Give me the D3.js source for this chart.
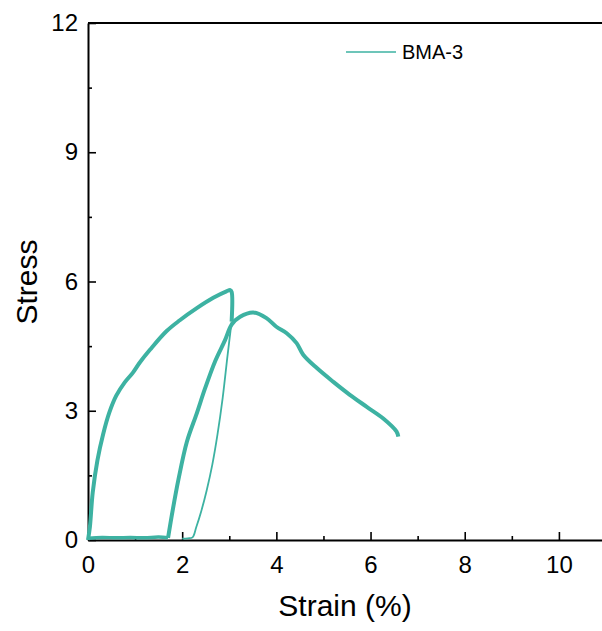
<!DOCTYPE html>
<html lang="en">
<head>
    <meta charset="UTF-8">
    <title>BMA-3</title>
    <script src="https://cdn.jsdelivr.net/npm/d3@7/dist/d3.min.js"></script>
    <style>
        body { margin: 0; background: #fff; }
        svg { display: block; font-family: "Liberation Sans", Arial, sans-serif; }
    </style>
</head>
<body>
<svg></svg>
<script>
    // first loading branch (strain %, stress), ends with the sudden drop at ~3.05
    let loadStrain = [0, 0.04, 0.10, 0.20, 0.32, 0.45, 0.60, 0.78, 0.95, 1.10, 1.32, 1.67, 1.95, 2.31, 2.66, 2.94, 3.02, 3.05, 3.05];
    let loadStress = [0, 0.30, 1.10, 1.85, 2.45, 2.95, 3.35, 3.66, 3.88, 4.12, 4.42, 4.85, 5.10, 5.38, 5.62, 5.77, 5.80, 5.76, 5.07];
    // thin steep branch going back down to the strain axis
    let unloadStrain = [3.05, 2.96, 2.86, 2.75, 2.64, 2.52, 2.40, 2.30, 2.22, 2.12, 2.0];
    let unloadStress = [5.07, 4.25, 3.30, 2.45, 1.75, 1.15, 0.65, 0.30, 0.06, 0.04, 0.03];
    // noise along the zero line
    let baseStrain = [0, 0.3, 0.6, 0.9, 1.2, 1.5, 1.70];
    let baseStress = [0.04, 0.06, 0.05, 0.06, 0.05, 0.07, 0.05];
    // second branch: reload, peak and softening
    let reStrain = [1.70, 1.80, 1.92, 2.10, 2.31, 2.48, 2.70, 2.91, 3.05, 3.23, 3.51, 3.79, 4.00, 4.22, 4.43, 4.57, 4.86, 5.21, 5.56, 5.92, 6.27, 6.55, 6.59];
    let reStress = [0.05, 0.70, 1.40, 2.28, 2.94, 3.50, 4.15, 4.64, 5.00, 5.18, 5.28, 5.15, 4.95, 4.80, 4.57, 4.30, 3.99, 3.67, 3.37, 3.09, 2.82, 2.52, 2.40];

    let xTicks = [0, 2, 4, 6, 8, 10];
    let xMinor = [1, 3, 5, 7, 9];
    let yTicks = [0, 3, 6, 9, 12];
    let yMinor = [1.5, 4.5, 7.5, 10.5];

    let seriesName = "BMA-3";
    let color = "#3db2a2";

    let width = 602, height = 631;
    let svg = d3.select("svg").attr("width", width).attr("height", height);

    let x = d3.scaleLinear().domain([0, 11]).range([88, 606]);
    let y = d3.scaleLinear().domain([0, 12]).range([540, 23]);

    // top frame line
    svg.append("line")
        .attr("x1", 88).attr("x2", width)
        .attr("y1", 23).attr("y2", 23)
        .attr("stroke", "#000").attr("stroke-width", 2);

    // minor ticks (inward)
    svg.append("g").attr("transform", "translate(0,540)")
        .call(d3.axisBottom(x).tickValues(xMinor).tickSize(-4).tickFormat(""))
        .call(g => g.select(".domain").remove());
    svg.append("g").attr("transform", "translate(88,0)")
        .call(d3.axisLeft(y).tickValues(yMinor).tickSize(-4).tickFormat(""))
        .call(g => g.select(".domain").remove());

    // major axes
    let xAxis = svg.append("g").attr("transform", "translate(0,540)")
        .call(d3.axisBottom(x).tickValues(xTicks).tickSizeInner(-8).tickSizeOuter(0).tickPadding(16));
    let yAxis = svg.append("g").attr("transform", "translate(88,0)")
        .call(d3.axisLeft(y).tickValues(yTicks).tickSizeInner(-8).tickSizeOuter(0).tickPadding(10));

    svg.selectAll(".tick line").attr("stroke", "#000").attr("stroke-width", 1.6);
    [xAxis, yAxis].forEach(a => {
        a.select(".domain").attr("stroke", "#000").attr("stroke-width", 2);
        a.selectAll("text").attr("font-size", 24).attr("fill", "#000")
            .attr("font-family", "Liberation Sans, Arial, sans-serif");
    });

    // axis titles
    svg.append("text")
        .attr("x", 345).attr("y", 616)
        .attr("text-anchor", "middle")
        .attr("font-size", 30)
        .text("Strain (%)");
    svg.append("text")
        .attr("transform", "translate(37,282) rotate(-90)")
        .attr("text-anchor", "middle")
        .attr("font-size", 30)
        .text("Stress");

    // curves
    let line = d3.line().curve(d3.curveCatmullRom.alpha(0.5))
        .x(d => x(d[0])).y(d => y(d[1]));
    let zip = (a, b) => a.map((v, i) => [v, b[i]]);

    let segs = [
        {pts: zip(baseStrain, baseStress), w: 3.5},
        {pts: zip(loadStrain, loadStress), w: 4},
        {pts: zip(unloadStrain, unloadStress), w: 1.8},
        {pts: zip(reStrain, reStress), w: 4}
    ];
    svg.selectAll("path.curve")
        .data(segs)
        .enter()
        .append("path")
        .attr("class", "curve")
        .attr("d", d => line(d.pts))
        .attr("fill", "none")
        .attr("stroke", color)
        .attr("stroke-width", d => d.w)
        .attr("stroke-linejoin", "round");

    // legend
    svg.append("line")
        .attr("x1", 346).attr("x2", 396)
        .attr("y1", 52).attr("y2", 52)
        .attr("stroke", color).attr("stroke-width", 1.5);
    svg.append("text")
        .attr("x", 402).attr("y", 59)
        .attr("font-size", 20)
        .text(seriesName);
</script>
</body>
</html>
